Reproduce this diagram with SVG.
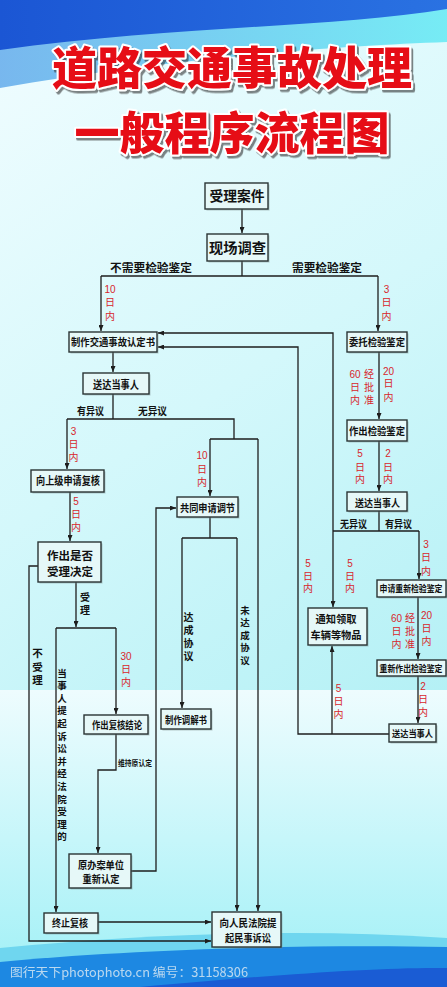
<svg xmlns="http://www.w3.org/2000/svg" width="447" height="987" viewBox="0 0 447 987">
<defs>
<linearGradient id="bgTop" x1="0" y1="0" x2="0.3" y2="1">
<stop offset="0" stop-color="#f2fdff"/>
<stop offset="0.5" stop-color="#d4f8fb"/>
<stop offset="1" stop-color="#aeeff4"/>
</linearGradient>
<linearGradient id="bgBot" x1="0" y1="0" x2="0" y2="1">
<stop offset="0" stop-color="#eefcfe"/>
<stop offset="1" stop-color="#9ff0f6"/>
</linearGradient>
<linearGradient id="swoosh" x1="0" y1="0" x2="1" y2="0">
<stop offset="0" stop-color="#5aa6ea"/>
<stop offset="1" stop-color="#5ce8f3"/>
</linearGradient>
<linearGradient id="darkBlue" x1="0" y1="0" x2="1" y2="0">
<stop offset="0" stop-color="#1b56d4"/>
<stop offset="1" stop-color="#2a72e2"/>
</linearGradient>
<filter id="tshadow" x="-10%" y="-20%" width="120%" height="150%">
<feDropShadow dx="2" dy="2.5" stdDeviation="0.6" flood-color="#333" flood-opacity="0.6"/>
</filter>
<marker id="ah" markerWidth="6" markerHeight="5" refX="6" refY="2.5" orient="auto" markerUnits="userSpaceOnUse">
<path d="M0,0 L6,2.5 L0,5 z" fill="#1e1e1e"/>
</marker>
<style>
.box{fill:#e6f8f8;stroke:#2a3434;stroke-width:1.4}
.sh{fill:#7a8c8c;opacity:0.45}
.t{font-family:"Noto Sans CJK SC","Noto Sans CJK JP",sans-serif;font-weight:700;fill:#111;text-anchor:middle}
.l{font-family:"Noto Sans CJK SC","Noto Sans CJK JP",sans-serif;font-weight:700;fill:#111;text-anchor:middle}
.v{font-family:"Noto Sans CJK SC","Noto Sans CJK JP",sans-serif;font-weight:700;fill:#111;writing-mode:vertical-rl;text-anchor:start}
.r{font-family:"Liberation Sans","Noto Sans CJK SC",sans-serif;font-size:10px;fill:#d8262c;text-anchor:middle}
.c{fill:none;stroke:#1e1e1e;stroke-width:1.3}
.title{font-family:"Noto Sans CJK SC",sans-serif;font-weight:900;font-size:45px;text-anchor:middle;fill:#e60f19;stroke:#fff;stroke-width:4;paint-order:stroke;stroke-linejoin:round;filter:url(#tshadow)}
</style>
</defs>
<g id="background">
<rect x="0" y="0" width="447" height="987" fill="url(#bgTop)"/>
<rect x="0" y="690" width="447" height="297" fill="url(#bgBot)"/>
<path d="M0,0 H447 V42 C330,46 160,60 0,88 Z" fill="url(#swoosh)" opacity="0.8"/>
<path d="M0,0 H447 V9 C330,28 170,26 0,50 Z" fill="url(#darkBlue)"/>
<path d="M0,948 C150,934 300,928 447,938 V987 H0 Z" fill="#6fd6ef"/>
<path d="M0,962 C120,950 300,944 447,947 V987 H0 Z" fill="#1d88e2"/>
<path d="M140,987 C270,975 380,967 447,968 V987 Z" fill="#1a5cd4"/>
</g>
<g id="title">
<text class="title" x="232" y="85">道路交通事故处理</text>
<text class="title" x="232" y="150">一般程序流程图</text>
</g>
<g id="connectors">
<path class="c" d="M242,209 V233" marker-end="url(#ah)"/>
<path class="c" d="M242,261 V276 M101,276 H378"/>
<path class="c" d="M101,276 V331" marker-end="url(#ah)"/>
<path class="c" d="M378,276 V331" marker-end="url(#ah)"/>
<path class="c" d="M113,352 V372" marker-end="url(#ah)"/>
<path class="c" d="M113,394 V419 M67,419 H234 V439 M210,439 H258"/>
<path class="c" d="M67,419 V469" marker-end="url(#ah)"/>
<path class="c" d="M258,439 V911" marker-end="url(#ah)"/>
<path class="c" d="M210,439 V496" marker-end="url(#ah)"/>
<path class="c" d="M70,492 V541" marker-end="url(#ah)"/>
<path class="c" d="M76,582 V627" marker-end="url(#ah)"/>
<path class="c" d="M56,628 H116"/>
<path class="c" d="M116,628 V714" marker-end="url(#ah)"/>
<path class="c" d="M56,628 V912" marker-end="url(#ah)"/>
<path class="c" d="M38,566 H29 V941 H211" marker-end="url(#ah)"/>
<path class="c" d="M116,734 V770 H98 V853" marker-end="url(#ah)"/>
<path class="c" d="M131,871 H156 V508 H176" marker-end="url(#ah)"/>
<path class="c" d="M210,517 V538 M182,538 H237"/>
<path class="c" d="M182,538 V708" marker-end="url(#ah)"/>
<path class="c" d="M237,538 V911" marker-end="url(#ah)"/>
<path class="c" d="M98,922 H211" marker-end="url(#ah)"/>
<path class="c" d="M379,352 V419" marker-end="url(#ah)"/>
<path class="c" d="M379,441 V491" marker-end="url(#ah)"/>
<path class="c" d="M379,511 V531 M333,531 H419"/>
<path class="c" d="M419,531 V579" marker-end="url(#ah)"/>
<path class="c" d="M333,531 V333 H158" marker-end="url(#ah)"/>
<path class="c" d="M333,531 V607" marker-end="url(#ah)"/>
<path class="c" d="M418,597 V659" marker-end="url(#ah)"/>
<path class="c" d="M418,676 V723" marker-end="url(#ah)"/>
<path class="c" d="M389,734 H298 V347 H158" marker-end="url(#ah)"/>
<path class="c" d="M332,734 V646" marker-end="url(#ah)"/>
</g>
<g id="n1"><rect class="sh" x="206.5" y="184.5" width="63" height="26"/><rect class="box" x="205" y="183" width="63" height="26"/><text class="t" x="237" y="201" font-size="13.5" textLength="55" lengthAdjust="spacingAndGlyphs">受理案件</text></g>
<g id="n2"><rect class="sh" x="208.5" y="235.5" width="61" height="27"/><rect class="box" x="207" y="234" width="61" height="27"/><text class="t" x="237.5" y="252.5" font-size="13.5" textLength="57" lengthAdjust="spacingAndGlyphs">现场调查</text></g>
<g id="n3"><rect class="sh" x="70.5" y="333.5" width="88" height="20"/><rect class="box" x="69" y="332" width="88" height="20"/><text class="t" x="113" y="345.8" font-size="10" textLength="84" lengthAdjust="spacingAndGlyphs">制作交通事故认定书</text></g>
<g id="n4"><rect class="sh" x="84.5" y="374.5" width="66" height="21"/><rect class="box" x="83" y="373" width="66" height="21"/><text class="t" x="116" y="389.2" font-size="11" textLength="46" lengthAdjust="spacingAndGlyphs">送达当事人</text></g>
<g id="n5"><rect class="sh" x="32.5" y="471.5" width="73" height="22"/><rect class="box" x="31" y="470" width="73" height="22"/><text class="t" x="68" y="485.2" font-size="11" textLength="64" lengthAdjust="spacingAndGlyphs">向上级申请复核</text></g>
<g id="n6"><rect class="sh" x="39.5" y="543.5" width="63" height="40"/><rect class="box" x="38" y="542" width="63" height="40"/><text class="t" x="70" y="560.4" font-size="11.5" textLength="46" lengthAdjust="spacingAndGlyphs">作出是否</text><text class="t" x="70" y="576.4" font-size="11.5" textLength="46" lengthAdjust="spacingAndGlyphs">受理决定</text></g>
<g id="n7"><rect class="sh" x="85.5" y="716.5" width="64" height="19"/><rect class="box" x="84" y="715" width="64" height="19"/><text class="t" x="117" y="729" font-size="10.5" textLength="50" lengthAdjust="spacingAndGlyphs">作出复核结论</text></g>
<g id="n8"><rect class="sh" x="70.5" y="855.5" width="62" height="34"/><rect class="box" x="69" y="854" width="62" height="34"/><text class="t" x="101" y="869" font-size="10.5" textLength="46" lengthAdjust="spacingAndGlyphs">原办案单位</text><text class="t" x="101" y="883" font-size="10.5" textLength="37" lengthAdjust="spacingAndGlyphs">重新认定</text></g>
<g id="n9"><rect class="sh" x="45.5" y="914.5" width="54" height="20"/><rect class="box" x="44" y="913" width="54" height="20"/><text class="t" x="70" y="927" font-size="10.5" textLength="36" lengthAdjust="spacingAndGlyphs">终止复核</text></g>
<g id="n10"><rect class="sh" x="213.5" y="913.5" width="69" height="35"/><rect class="box" x="212" y="912" width="69" height="35"/><text class="t" x="248" y="927" font-size="10.5" textLength="57" lengthAdjust="spacingAndGlyphs">向人民法院提</text><text class="t" x="248" y="942" font-size="10.5" textLength="46" lengthAdjust="spacingAndGlyphs">起民事诉讼</text></g>
<g id="n11"><rect class="sh" x="178.5" y="498.5" width="61" height="20"/><rect class="box" x="177" y="497" width="61" height="20"/><text class="t" x="207.5" y="511.5" font-size="10.5" textLength="55" lengthAdjust="spacingAndGlyphs">共同申请调节</text></g>
<g id="n12"><rect class="sh" x="162.5" y="710.5" width="50" height="20"/><rect class="box" x="161" y="709" width="50" height="20"/><text class="t" x="186" y="723.8" font-size="10" textLength="42" lengthAdjust="spacingAndGlyphs">制作调解书</text></g>
<g id="n13"><rect class="sh" x="348.5" y="333.5" width="60" height="20"/><rect class="box" x="347" y="332" width="60" height="20"/><text class="t" x="377" y="346" font-size="10.5" textLength="56" lengthAdjust="spacingAndGlyphs">委托检验鉴定</text></g>
<g id="n14"><rect class="sh" x="348.5" y="421.5" width="60" height="21"/><rect class="box" x="347" y="420" width="60" height="21"/><text class="t" x="377" y="435" font-size="10.5" textLength="56" lengthAdjust="spacingAndGlyphs">作出检验鉴定</text></g>
<g id="n15"><rect class="sh" x="348.5" y="493.5" width="60" height="19"/><rect class="box" x="347" y="492" width="60" height="19"/><text class="t" x="377.5" y="506.5" font-size="10.5" textLength="45" lengthAdjust="spacingAndGlyphs">送达当事人</text></g>
<g id="n16"><rect class="sh" x="309.5" y="609.5" width="59" height="37"/><rect class="box" x="308" y="608" width="59" height="37"/><text class="t" x="336" y="623.3" font-size="10.5" textLength="41" lengthAdjust="spacingAndGlyphs">通知领取</text><text class="t" x="336" y="638.8" font-size="10.5" textLength="51" lengthAdjust="spacingAndGlyphs">车辆等物品</text></g>
<g id="n17"><rect class="sh" x="378.5" y="581.5" width="68.5" height="17"/><rect class="box" x="377" y="580" width="69" height="17"/><text class="t" transform="translate(411,592) scale(0.83,1)" x="0" y="0" font-size="9.5">申请重新检验鉴定</text></g>
<g id="n18"><rect class="sh" x="378.5" y="661.5" width="68.5" height="16"/><rect class="box" x="377" y="660" width="69" height="16"/><text class="t" transform="translate(411,672) scale(0.83,1)" x="0" y="0" font-size="9.5">重新作出检验鉴定</text></g>
<g id="n19"><rect class="sh" x="390.5" y="725.5" width="47" height="18"/><rect class="box" x="389" y="724" width="47" height="18"/><text class="t" x="412.5" y="736.6" font-size="9.5" textLength="41" lengthAdjust="spacingAndGlyphs">送达当事人</text></g>
<g id="edge-labels">
<text class="l" x="151" y="272" font-size="11" textLength="82" lengthAdjust="spacingAndGlyphs">不需要检验鉴定</text>
<text class="l" x="327" y="272" font-size="11" textLength="70" lengthAdjust="spacingAndGlyphs">需要检验鉴定</text>
<text class="l" x="90.5" y="414.8" font-size="10" textLength="27" lengthAdjust="spacingAndGlyphs">有异议</text>
<text class="l" x="152.5" y="414.8" font-size="10" textLength="29" lengthAdjust="spacingAndGlyphs">无异议</text>
<text class="l" x="353.5" y="527.8" font-size="10" textLength="27" lengthAdjust="spacingAndGlyphs">无异议</text>
<text class="l" x="398.5" y="527.8" font-size="10" textLength="27" lengthAdjust="spacingAndGlyphs">有异议</text>
<text class="v" x="85" y="592.5" font-size="10" letter-spacing="3">受理</text>
<text class="v" x="37.5" y="647.8" font-size="10.5" letter-spacing="3">不受理</text>
<text class="v" x="62" y="668.3" font-size="9.5" letter-spacing="3.1">当事人提起诉讼并经法院受理的</text>
<text class="v" x="188.5" y="612" font-size="10" letter-spacing="3">达成协议</text>
<text class="v" x="245" y="605.3" font-size="9.5" letter-spacing="3">未达成协议</text>
<text class="l" x="135" y="765.5" font-size="8" textLength="34" lengthAdjust="spacingAndGlyphs">维持原认定</text>
</g>
<g id="time-labels">
<text class="r"><tspan x="110" y="292.6">10</tspan><tspan x="110" y="306.3">日</tspan><tspan x="110" y="319.8">内</tspan></text>
<text class="r"><tspan x="386.5" y="292.6">3</tspan><tspan x="386.5" y="306.3">日</tspan><tspan x="386.5" y="319.8">内</tspan></text>
<text class="r"><tspan x="73.5" y="434.6">3</tspan><tspan x="73.5" y="447.8">日</tspan><tspan x="73.5" y="460.8">内</tspan></text>
<text class="r"><tspan x="202" y="458.6">10</tspan><tspan x="202" y="472.8">日</tspan><tspan x="202" y="486.3">内</tspan></text>
<text class="r"><tspan x="76" y="504.6">5</tspan><tspan x="76" y="517.8">日</tspan><tspan x="76" y="530.8">内</tspan></text>
<text class="r"><tspan x="126" y="659.6">30</tspan><tspan x="126" y="672.8">日</tspan><tspan x="126" y="685.8">内</tspan></text>
<text class="r"><tspan x="355" y="377.6">60</tspan><tspan x="355" y="391.3">日</tspan><tspan x="355" y="404.3">内</tspan></text>
<text class="r"><tspan x="369" y="377.8">经</tspan><tspan x="369" y="391.3">批</tspan><tspan x="369" y="404.3">准</tspan></text>
<text class="r"><tspan x="388.5" y="374.6">20</tspan><tspan x="388.5" y="387.3">日</tspan><tspan x="388.5" y="401.3">内</tspan></text>
<text class="r"><tspan x="360" y="457.1">5</tspan><tspan x="360" y="470.8">日</tspan><tspan x="360" y="483.3">内</tspan></text>
<text class="r"><tspan x="388" y="457.1">2</tspan><tspan x="388" y="470.8">日</tspan><tspan x="388" y="483.3">内</tspan></text>
<text class="r"><tspan x="308" y="566.6">5</tspan><tspan x="308" y="579.8">日</tspan><tspan x="308" y="592.3">内</tspan></text>
<text class="r"><tspan x="350" y="566.6">5</tspan><tspan x="350" y="579.8">日</tspan><tspan x="350" y="592.3">内</tspan></text>
<text class="r"><tspan x="426" y="547.6">3</tspan><tspan x="426" y="561.3">日</tspan><tspan x="426" y="574.8">内</tspan></text>
<text class="r"><tspan x="396.5" y="622.1">60</tspan><tspan x="396.5" y="635.3">日</tspan><tspan x="396.5" y="648.3">内</tspan></text>
<text class="r"><tspan x="410" y="622.3">经</tspan><tspan x="410" y="635.3">批</tspan><tspan x="410" y="648.3">准</tspan></text>
<text class="r"><tspan x="426.5" y="619.1">20</tspan><tspan x="426.5" y="631.8">日</tspan><tspan x="426.5" y="645.3">内</tspan></text>
<text class="r"><tspan x="423" y="689.6">2</tspan><tspan x="423" y="702.8">日</tspan><tspan x="423" y="716.3">内</tspan></text>
<text class="r"><tspan x="338.5" y="691.6">5</tspan><tspan x="338.5" y="705.3">日</tspan><tspan x="338.5" y="718.3">内</tspan></text>
</g>
<g id="watermark">
<text x="10" y="977" font-family="Noto Sans CJK SC,sans-serif" font-size="12.5" fill="#d6e6f2" opacity="0.85" textLength="238" lengthAdjust="spacingAndGlyphs">图行天下photophoto.cn  编号：31158306</text>
</g>
</svg>
